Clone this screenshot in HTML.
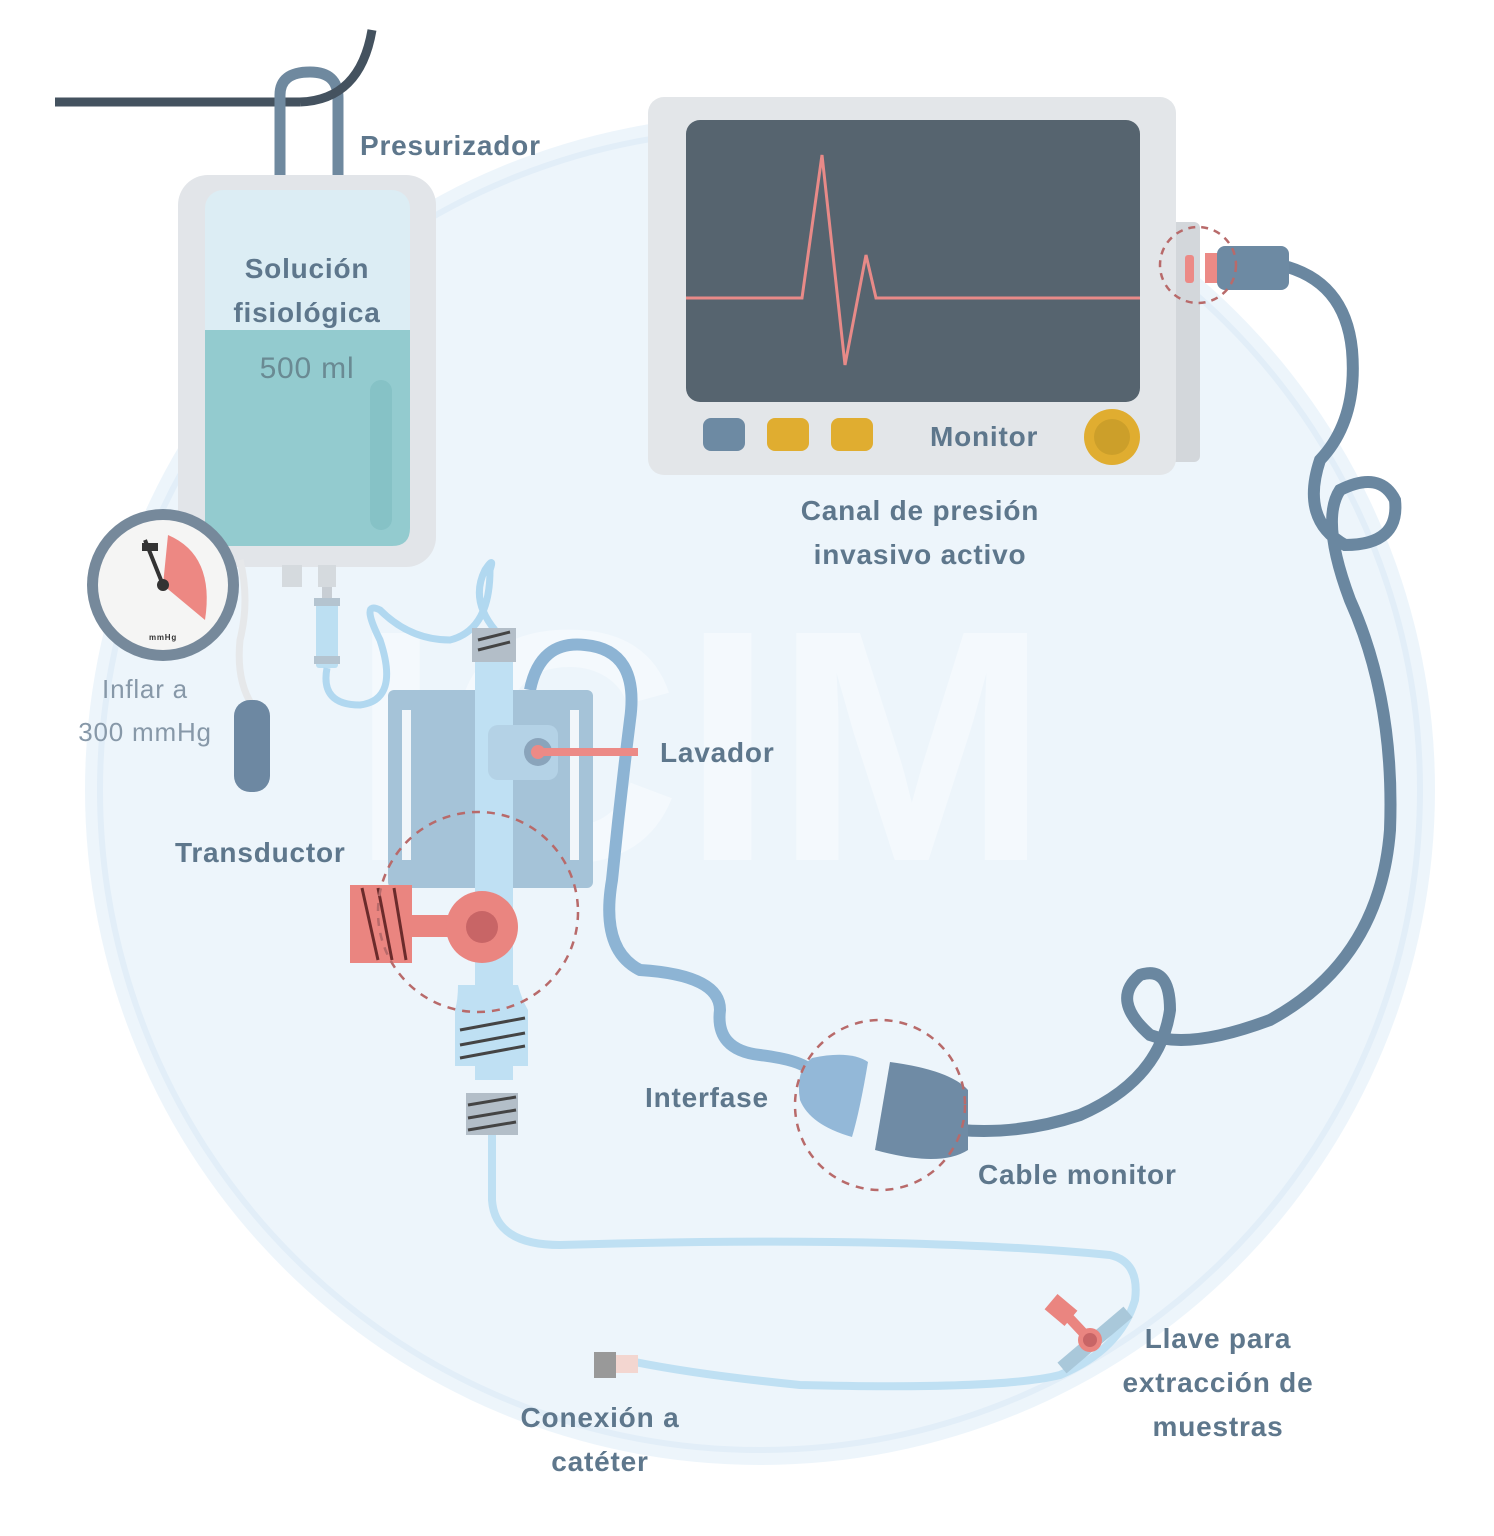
<!DOCTYPE html>
<html><head><meta charset="utf-8"><style>
html,body{margin:0;padding:0;background:#fff}
svg{display:block}
text{font-family:"Liberation Sans",sans-serif;font-weight:bold;fill:#5e778c;letter-spacing:0.8px}
</style></head><body>
<svg width="1494" height="1536" viewBox="0 0 1494 1536" xmlns="http://www.w3.org/2000/svg">
<rect width="1494" height="1536" fill="#fff"/>
<circle cx="760" cy="790" r="675" fill="#edf5fb"/>
<circle cx="760" cy="790" r="660" fill="none" stroke="#e2eef8" stroke-width="6"/>
<text x="700" y="860" font-size="330" style="fill:#f4f9fd" text-anchor="middle">ICIM</text>

<path d="M55 102 H300" stroke="#44525f" stroke-width="9" fill="none"/>
<path d="M280 180 V95 Q280 72 310 72 Q338 72 338 98 V180" stroke="#6f899f" stroke-width="11" fill="none"/>
<path d="M300 102 Q360 100 372 30" stroke="#44525f" stroke-width="9" fill="none"/>
<text x="360" y="155" font-size="28">Presurizador</text>

<rect x="178" y="175" width="258" height="392" rx="30" fill="#e2e5e9"/>
<rect x="205" y="190" width="205" height="356" rx="18" fill="#dcedf4"/>
<path d="M205 330 H410 V528 Q410 546 392 546 H223 Q205 546 205 528 Z" fill="#93cbcf"/>
<rect x="370" y="380" width="22" height="150" rx="11" fill="#86c2c6"/>
<text x="307" y="278" font-size="28" text-anchor="middle">Solución</text>
<text x="307" y="322" font-size="28" text-anchor="middle">fisiológica</text>
<text x="307" y="378" font-size="30" text-anchor="middle" style="font-weight:normal;fill:#6a8a93">500 ml</text>
<rect x="282" y="565" width="20" height="22" fill="#d5dade"/>
<rect x="318" y="565" width="18" height="22" fill="#d5dade"/>
<rect x="322" y="587" width="10" height="20" fill="#c8ced4"/>
<rect x="316" y="598" width="22" height="70" rx="3" fill="#bcdff2"/>
<rect x="314" y="598" width="26" height="8" fill="#b4c4d0"/>
<rect x="314" y="656" width="26" height="8" fill="#b4c4d0"/>

<path d="M240 560 Q250 600 240 640 Q236 680 252 705" stroke="#e6e8ea" stroke-width="7" fill="none"/>
<rect x="234" y="700" width="36" height="92" rx="16" fill="#6d88a2"/>
<circle cx="163" cy="585" r="76" fill="#76899b"/>
<circle cx="163" cy="585" r="65" fill="#f5f5f4"/>
<path d="M163 585 L168 535 Q215 555 205 620 Z" fill="#ed8883"/>
<path d="M163 585 L145 540" stroke="#333" stroke-width="4"/>
<circle cx="163" cy="585" r="6" fill="#333"/>
<rect x="142" y="543" width="16" height="8" fill="#333"/>
<text x="163" y="640" font-size="8" text-anchor="middle" style="fill:#333">mmHg</text>
<text x="145" y="698" font-size="26" text-anchor="middle" style="font-weight:normal;fill:#8798a8">Inflar a</text>
<text x="145" y="741" font-size="26" text-anchor="middle" style="font-weight:normal;fill:#8798a8">300 mmHg</text>

<path d="M327 668 Q320 705 360 705 Q400 700 380 640 Q360 600 380 610 Q410 640 450 640 Q490 630 490 570 Q495 555 485 570 Q470 600 495 630" stroke="#b1d8f0" stroke-width="7" fill="none"/>
<path d="M530 690 Q540 640 585 645 Q640 650 630 720 Q620 800 612 880 Q600 950 640 970 Q720 975 720 1010 Q715 1050 760 1055 Q800 1060 810 1070" stroke="#8db4d4" stroke-width="12" fill="none"/>
<rect x="388" y="690" width="205" height="198" rx="6" fill="#a5c3d8"/>
<rect x="402" y="710" width="9" height="150" fill="#f1f6fa"/>
<rect x="570" y="710" width="9" height="150" fill="#f1f6fa"/>
<rect x="475" y="660" width="38" height="420" fill="#bfe0f3"/>
<rect x="472" y="628" width="44" height="34" fill="#b3bec8"/>
<path d="M478 640 L510 632 M478 650 L510 642" stroke="#444" stroke-width="3"/>
<rect x="488" y="725" width="70" height="55" rx="10" fill="#b4d2e6"/>
<circle cx="538" cy="752" r="14" fill="#8aa4bb"/>
<circle cx="538" cy="752" r="7" fill="#ec8a86"/>
<rect x="538" y="748" width="100" height="8" fill="#ec8a86"/>
<text x="660" y="762" font-size="28">Lavador</text>
<text x="175" y="862" font-size="28">Transductor</text>
<rect x="350" y="885" width="62" height="78" fill="#ea8580"/>
<path d="M362 888 L378 960 M378 888 L392 960 M394 888 L406 960" stroke="#6b2b2b" stroke-width="3"/>
<rect x="405" y="915" width="60" height="22" fill="#ea8580"/>
<circle cx="482" cy="927" r="36" fill="#ea8580"/>
<circle cx="482" cy="927" r="16" fill="#c86566"/>
<path d="M458 985 Q458 1000 455 1010 H528 Q522 1000 518 985 Z" fill="#bfe0f3"/>
<rect x="455" y="1010" width="73" height="56" fill="#bfe0f3"/>
<path d="M460 1030 L525 1018 M460 1045 L525 1033 M460 1058 L525 1046" stroke="#444" stroke-width="3"/>
<rect x="475" y="1066" width="33" height="14" fill="#bfe0f3"/>
<circle cx="478" cy="912" r="100" fill="none" stroke="#b86a6a" stroke-width="2.5" stroke-dasharray="8 7"/>
<rect x="466" y="1093" width="52" height="42" fill="#b3bec8"/>
<path d="M468 1105 L516 1097 M468 1118 L516 1110 M468 1130 L516 1122" stroke="#444" stroke-width="3"/>
<path d="M492 1135 V1200 Q495 1245 560 1245 Q900 1235 1110 1255 Q1140 1262 1135 1300 Q1120 1350 1060 1375 Q1000 1390 800 1385 Q700 1375 635 1362" stroke="#bfe0f3" stroke-width="8" fill="none"/>
<rect x="594" y="1352" width="22" height="26" fill="#999"/>
<rect x="616" y="1355" width="22" height="18" fill="#f3d6d0"/>
<text x="600" y="1427" font-size="28" text-anchor="middle">Conexión a</text>
<text x="600" y="1471" font-size="28" text-anchor="middle">catéter</text>
<path d="M1062 1368 L1128 1312" stroke="#a9c8da" stroke-width="14"/>
<path d="M1060 1308 L1090 1340" stroke="#ea8580" stroke-width="10"/>
<rect x="1048" y="1300" width="26" height="20" fill="#ea8580" transform="rotate(40 1061 1310)"/>
<circle cx="1090" cy="1340" r="12" fill="#ea8580"/>
<circle cx="1090" cy="1340" r="7" fill="#c86566"/>
<text x="1218" y="1348" font-size="28" text-anchor="middle">Llave para</text>
<text x="1218" y="1392" font-size="28" text-anchor="middle">extracción de</text>
<text x="1218" y="1436" font-size="28" text-anchor="middle">muestras</text>

<rect x="1170" y="222" width="30" height="240" rx="6" fill="#d3d7db"/>
<rect x="648" y="97" width="528" height="378" rx="16" fill="#e3e6e9"/>
<rect x="686" y="120" width="454" height="282" rx="14" fill="#56646f"/>
<polyline points="686,298 802,298 822,155 845,365 866,255 876,298 1140,298" fill="none" stroke="#e88a88" stroke-width="3"/>
<rect x="703" y="418" width="42" height="33" rx="8" fill="#6d8aa3"/>
<rect x="767" y="418" width="42" height="33" rx="8" fill="#e0ad30"/>
<rect x="831" y="418" width="42" height="33" rx="8" fill="#e0ad30"/>
<text x="930" y="446" font-size="28">Monitor</text>
<circle cx="1112" cy="437" r="28" fill="#e0ad30"/>
<circle cx="1112" cy="437" r="18" fill="#cc9f2a"/>
<text x="920" y="520" font-size="28" text-anchor="middle">Canal de presión</text>
<text x="920" y="564" font-size="28" text-anchor="middle">invasivo activo</text>
<path d="M1280 265 Q1345 280 1352 350 Q1358 420 1320 460 Q1300 520 1345 545 Q1400 545 1395 500 Q1380 470 1340 490 Q1320 520 1350 600 Q1395 700 1390 830 Q1380 960 1270 1020 Q1190 1050 1150 1035 Q1110 1000 1140 975 Q1170 965 1170 1010 Q1160 1080 1080 1115 Q1020 1135 960 1130" stroke="#6a87a0" stroke-width="12" fill="none"/>
<rect x="1185" y="255" width="9" height="28" rx="3" fill="#ec8a86"/>
<rect x="1205" y="253" width="14" height="30" fill="#ec8a86"/>
<rect x="1217" y="246" width="72" height="44" rx="8" fill="#6d8aa3"/>
<circle cx="1198" cy="265" r="38" fill="none" stroke="#b86a6a" stroke-width="2.5" stroke-dasharray="7 6"/>
<path d="M812 1058 Q850 1050 868 1062 Q860 1110 852 1137 Q810 1125 800 1100 Q795 1070 812 1058 Z" fill="#93b8d8"/>
<path d="M890 1062 Q950 1070 968 1090 L968 1150 Q940 1168 875 1150 Z" fill="#6f8ba5"/>
<circle cx="880" cy="1105" r="85" fill="none" stroke="#b86a6a" stroke-width="2.5" stroke-dasharray="8 7"/>
<text x="645" y="1107" font-size="28">Interfase</text>
<text x="978" y="1184" font-size="28">Cable monitor</text>
</svg>
</body></html>
